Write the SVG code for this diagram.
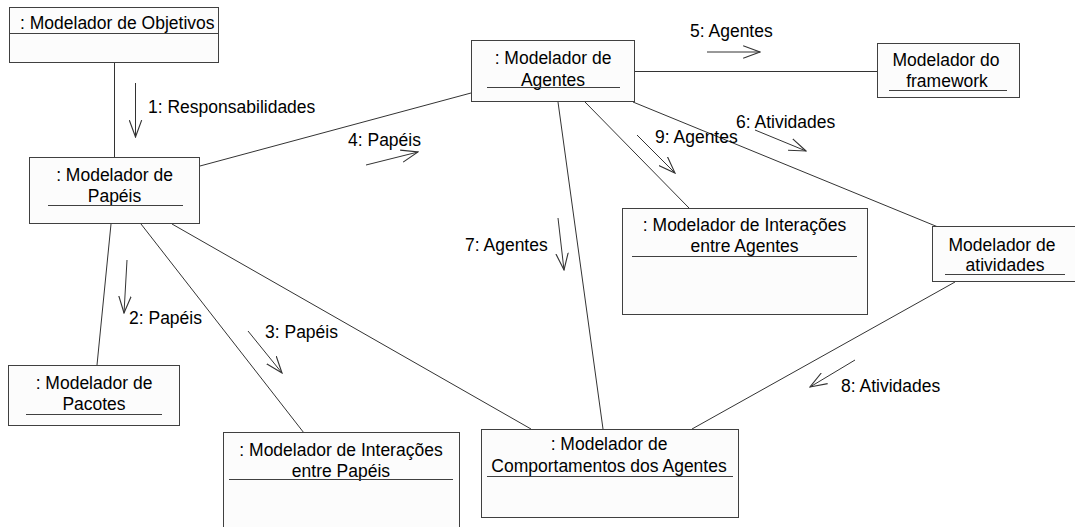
<svg xmlns="http://www.w3.org/2000/svg" width="1075" height="527" viewBox="0 0 1075 527">
<style>
  .box { fill: #fcfcfc; stroke: #404040; stroke-width: 1; }
  .sep { stroke: #404040; stroke-width: 1; fill: none; }
  .t { font-family: "Liberation Sans", Arial, sans-serif; font-size: 17.5px; fill: #000; }
  .c { text-anchor: middle; }
  .conn { stroke: #333; stroke-width: 1; fill: none; }
  .msg { stroke: #333; stroke-width: 1; fill: none; marker-end: url(#open); }
</style>
<defs>
  <marker id="open" markerUnits="userSpaceOnUse" markerWidth="18" markerHeight="14" viewBox="0 0 16 12" refX="15" refY="6" orient="auto">
    <path d="M0,0.5 L15,6 L0,11.5" fill="none" stroke="#333" stroke-width="1"/>
  </marker>
</defs>
<rect width="1075" height="527" fill="#fff"/>

<g id="connectors">
  <line class="conn" x1="114.5" y1="62" x2="114.5" y2="158"/>
  <line class="conn" x1="200" y1="166" x2="471" y2="93"/>
  <line class="conn" x1="634" y1="71.5" x2="877" y2="71.5"/>
  <line class="conn" x1="633" y1="102" x2="938" y2="227"/>
  <line class="conn" x1="585" y1="102" x2="689" y2="208"/>
  <line class="conn" x1="558" y1="102" x2="603" y2="429"/>
  <line class="conn" x1="955" y1="282" x2="692" y2="429"/>
  <line class="conn" x1="172" y1="224" x2="531" y2="429"/>
  <line class="conn" x1="111" y1="224" x2="97" y2="365"/>
  <line class="conn" x1="141" y1="224" x2="304" y2="433"/>

  <line class="msg" x1="135.5" y1="83" x2="135.5" y2="137"/>
  <line class="msg" x1="127" y1="260" x2="124" y2="313"/>
  <line class="msg" x1="248" y1="331" x2="282" y2="373"/>
  <line class="msg" x1="366" y1="165" x2="418" y2="152"/>
  <line class="msg" x1="707" y1="52" x2="760" y2="52"/>
  <line class="msg" x1="755" y1="130" x2="806" y2="151"/>
  <line class="msg" x1="558" y1="218" x2="564" y2="270"/>
  <line class="msg" x1="855" y1="360" x2="810" y2="387"/>
  <line class="msg" x1="637" y1="135" x2="675" y2="173"/>

  <text class="t" x="148" y="113">1: Responsabilidades</text>
  <text class="t" x="129" y="324">2: Papéis</text>
  <text class="t" x="265" y="338">3: Papéis</text>
  <text class="t" x="348" y="146">4: Papéis</text>
  <text class="t" x="690" y="37">5: Agentes</text>
  <text class="t" x="736" y="128">6: Atividades</text>
  <text class="t" x="465" y="251">7: Agentes</text>
  <text class="t" x="841" y="392">8: Atividades</text>
  <text class="t" x="655" y="143">9: Agentes</text>
</g>

<g id="objetivos">
  <rect class="box" x="9.5" y="7.5" width="209" height="55"/>
  <line class="sep" x1="9.5" y1="33.5" x2="218.5" y2="33.5"/>
  <text class="t" x="20" y="29">: Modelador de Objetivos</text>
</g>

<g id="papeis">
  <rect class="box" x="29.5" y="157.5" width="170" height="66"/>
  <text class="t c" x="114.5" y="181">: Modelador de</text>
  <text class="t c" x="114.5" y="202">Papéis</text>
  <line class="sep" x1="48" y1="205.5" x2="183" y2="205.5"/>
</g>

<g id="agentes">
  <rect class="box" x="471.5" y="40.5" width="163" height="61"/>
  <text class="t c" x="553" y="64">: Modelador de</text>
  <text class="t c" x="553" y="85.5">Agentes</text>
  <line class="sep" x1="487" y1="87.5" x2="620" y2="87.5"/>
</g>

<g id="framework">
  <rect class="box" x="877.5" y="43.5" width="142" height="54"/>
  <text class="t c" x="946" y="65.5">Modelador do</text>
  <text class="t c" x="947" y="87">framework</text>
  <line class="sep" x1="889" y1="90.5" x2="1007" y2="90.5"/>
</g>

<g id="atividades">
  <rect class="box" x="932.5" y="226.5" width="146" height="55"/>
  <text class="t c" x="1002" y="250.5">Modelador de</text>
  <text class="t c" x="1005" y="271">atividades</text>
  <line class="sep" x1="945" y1="274.5" x2="1065" y2="274.5"/>
</g>

<g id="interacoes-agentes">
  <rect class="box" x="622.5" y="208.5" width="245" height="106"/>
  <text class="t c" x="744.5" y="231">: Modelador de Interações</text>
  <text class="t c" x="744.5" y="252">entre Agentes</text>
  <line class="sep" x1="632" y1="256.5" x2="857" y2="256.5"/>
</g>

<g id="pacotes">
  <rect class="box" x="8.5" y="365.5" width="171" height="60"/>
  <text class="t c" x="94" y="388.5">: Modelador de</text>
  <text class="t c" x="94" y="409.5">Pacotes</text>
  <line class="sep" x1="26" y1="414.5" x2="162" y2="414.5"/>
</g>

<g id="interacoes-papeis">
  <rect class="box" x="223.5" y="432.5" width="236" height="110"/>
  <text class="t c" x="341" y="455.5">: Modelador de Interações</text>
  <text class="t c" x="341" y="476.5">entre Papéis</text>
  <line class="sep" x1="229" y1="479.5" x2="453" y2="479.5"/>
</g>

<g id="comportamentos">
  <rect class="box" x="481.5" y="429.5" width="257" height="88"/>
  <text class="t c" x="609" y="450">: Modelador de</text>
  <text class="t c" x="609" y="472">Comportamentos dos Agentes</text>
  <line class="sep" x1="487" y1="476.5" x2="733" y2="476.5"/>
</g>
</svg>
